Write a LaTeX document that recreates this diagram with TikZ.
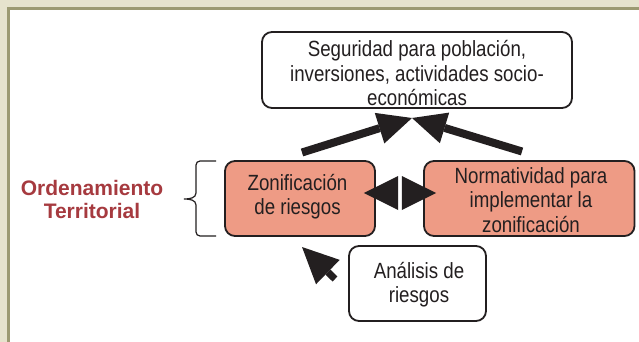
\documentclass[tikz,border=0pt]{standalone}
\usepackage{fontspec}
\setmainfont{Liberation Sans}[FakeStretch=0.85]
\newfontfamily\ordfont{Liberation Sans}
\usetikzlibrary{arrows.meta}
\definecolor{beige}{HTML}{E6E3CD}
\definecolor{olivebd}{HTML}{9C9A72}
\definecolor{salmon}{HTML}{EE9B85}
\definecolor{ink}{HTML}{231F20}
\definecolor{ordred}{HTML}{A63A3F}
\tikzset{
  box/.style={draw=ink, line width=1.8pt, rounded corners=10pt, inner sep=0pt},
  txt/.style={align=center, text=ink, inner sep=0pt, font=\fontsize{22}{24.5}\selectfont},
  fatarrow/.style={draw=ink, line width=8pt, -{Triangle[length=34pt,width=32pt,line width=0pt]}},
  ptrarrow/.style={draw=ink, line width=7pt, -{Triangle[length=36pt,width=34pt,line width=0pt]}},
  dblhead/.style={fill=ink}
}
\begin{document}
\begin{tikzpicture}[x=1pt,y=-1pt]
\useasboundingbox (0,0) rectangle (639,342);
% frame
\fill[beige] (0,0) rectangle (639,342);
\fill[olivebd] (7,7) rectangle (639,342);
\fill[white] (10,10) rectangle (639,342);

% boxes
\node[box, fill=white, minimum width=310pt, minimum height=76pt] (top) at (417,70) {};
\node[txt] (toptxt) at (417,73.5) {Seguridad para población,\\inversiones, actividades socio-\\económicas};

\node[box, fill=salmon, minimum width=150pt, minimum height=75pt] (z) at (300,198.5) {};
\node[txt] (ztxt) at (297.5,196.5) {Zonificación\\de riesgos};

\node[box, fill=salmon, minimum width=210.5pt, minimum height=75pt] (n) at (529.25,198.5) {};
\node[txt] (ntxt) at (531,200) {Normatividad para\\implementar la\\zonificación};

\node[box, fill=white, minimum width=137pt, minimum height=75pt] (a) at (417.5,283.5) {};
\node[txt] (atxt) at (419,284.5) {Análisis de\\riesgos};

% left label
\node[align=center, text=ordred, inner sep=0pt, font=\ordfont\bfseries\fontsize{21}{23}\selectfont] (ord) at (92,199.5) {Ordenamiento\\Territorial};

% brace
\draw[ink, line width=1.2pt] (216,161) -- (200,161) to[out=180,in=90] (196,165) -- (196,193)
  to[out=-90,in=0] (184,199) to[out=0,in=90] (196,205) -- (196,232) to[out=-90,in=180] (200,236) -- (216,236);

% arrows to top
\coordinate (meet) at (412,118);
\coordinate (ltail) at (302,152.5);
\coordinate (rtail) at (522,151.5);
\draw[fatarrow] (ltail) -- (meet);
\draw[fatarrow] (rtail) -- (meet);

% double arrow (two heads with a thin white gap)
\coordinate (mid) at (400,193);
\fill[dblhead] ([xshift=-12pt]z.east |- mid) -- ([xshift=-1.8pt,yshift=17pt]mid) -- ([xshift=-1.8pt,yshift=-17pt]mid) -- cycle;
\fill[dblhead] ([xshift=13pt]n.west |- mid) -- ([xshift=1.8pt,yshift=17pt]mid) -- ([xshift=1.8pt,yshift=-17pt]mid) -- cycle;

% pointer arrow
\coordinate (ptail) at (335,279);
\coordinate (ptip) at (302,247);
\draw[ptrarrow] (ptail) -- (ptip);
\end{tikzpicture}
\end{document}
